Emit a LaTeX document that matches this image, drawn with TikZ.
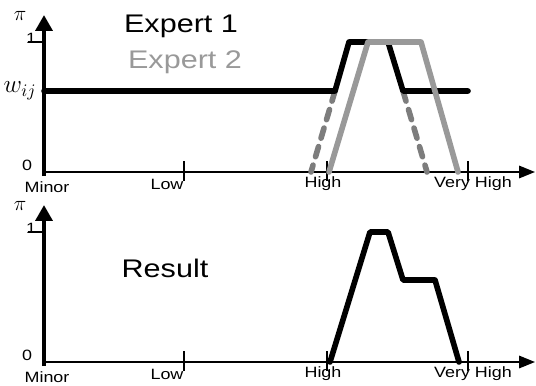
\documentclass[tikz,border=0pt]{standalone}
\usepackage{fontspec}
\setsansfont{Liberation Sans}
\usetikzlibrary{arrows.meta}

\definecolor{expgray}{RGB}{153,153,153}
\definecolor{dashgray}{RGB}{125,125,125}

\tikzset{
  yaxis/.style={line width=2.2pt, -{Triangle[length=9pt,width=9.5pt]}},
  xaxis/.style={line width=1.1pt, -{Triangle[length=9pt,width=7pt]}},
  tickmark/.style={line width=0.7pt},
  lbl/.style={font=\sffamily\fontsize{8.5}{10}\selectfont, inner sep=0pt, xscale=1.2},
  title/.style={font=\sffamily\fontsize{14.5}{16}\selectfont, inner sep=0pt, xscale=1.2},
  curve/.style={line width=3.2pt, line join=round, line cap=round},
  curvetwo/.style={curve, color=expgray},
  curvedash/.style={line width=3.2pt, line cap=round, color=dashgray, dash pattern=on 6pt off 5pt}
}

\begin{document}
\begin{tikzpicture}[x=0.02cm, y=-0.02cm]
\useasboundingbox (0,0) rectangle (536,385);
%---------------------------------- axes of both panels
\foreach \p/\oy in {a/0, b/190}{
  \coordinate (org\p) at (44,176+\oy);
  \coordinate (ytop\p) at (44,15+\oy);
  \coordinate (xbeg\p) at (44,172+\oy);
  \coordinate (xend\p) at (535,172+\oy);
  \draw[yaxis] (org\p) -- (ytop\p);
  \draw[xaxis] (xbeg\p) -- (xend\p);
  \coordinate (one\p) at (44,42+\oy);
  \draw[tickmark] (one\p) -- ++(-16,0);
  \node[inner sep=0pt] (pi\p) at (20,16+\oy) {\large$\pi$};
  \node[lbl] (lone\p) at (31,38+\oy) {1};
  \node[lbl] (zero\p) at (27,165+\oy) {0};
  %---------------------------------- ticks
  \coordinate (tlow\p) at (184,161+\oy);
  \coordinate (thigh\p) at (327,161+\oy);
  \coordinate (tvhigh\p) at (468,161+\oy);
  \draw[tickmark] (tlow\p) -- ++(0,20);
  \draw[tickmark] (thigh\p) -- ++(0,20);
  \draw[tickmark] (tvhigh\p) -- ++(0,20);
  \node[lbl] (minor\p) at (47,187+\oy) {Minor};
  \node[lbl] (low\p) at (167,184+\oy) {Low};
  \node[lbl] (high\p) at (323,184+\oy) {High};
  \node[lbl] (vhigh\p) at (473,184+\oy) {Very High};
}
%---------------------------------- top panel
\node[title] (exp1) at (181,26) {Expert 1};
\node[title, color=expgray] (exp2) at (185,62) {Expert 2};
\node[inner sep=0pt] (wij) at (20,91) {\Large$w_{ij}$};
\draw[curvedash] (335,91) -- (311,172);
\draw[curvedash] (403,91) -- (427,172);
\draw[curve] (44,91) -- (335,91) -- (349,42) -- (388,42) -- (403,91) -- (468,91);
\draw[curvetwo] (329,172) -- (368,42) -- (421,42) -- (458,172);
%---------------------------------- bottom panel
\node[title] (res) at (165,268) {Result};
\draw[curve] (330,362) -- (370,232) -- (388,232) -- (403,280) -- (435,280) -- (459,362);
\end{tikzpicture}
\end{document}
